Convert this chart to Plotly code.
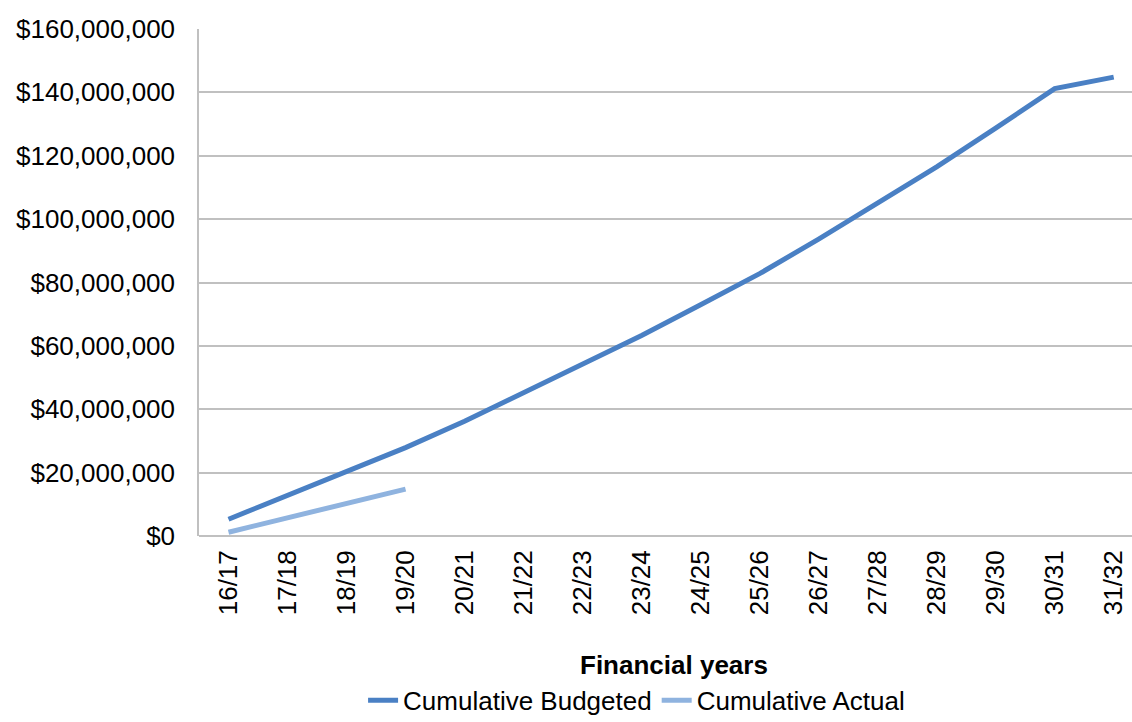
import plotly.graph_objects as go

# Financial years on the category axis
years = ["16/17", "17/18", "18/19", "19/20", "20/21", "21/22", "22/23", "23/24",
         "24/25", "25/26", "26/27", "27/28", "28/29", "29/30", "30/31", "31/32"]

# Cumulative budgeted spend ($)
budgeted = [5.3e6, 12.7e6, 20.3e6, 27.9e6, 36.2e6, 45.2e6, 54.1e6, 63.3e6,
            73.0e6, 82.8e6, 93.7e6, 104.9e6, 116.5e6, 128.7e6, 141.2e6, 144.8e6]

# Cumulative actual spend ($) for the years reported so far
actual_years = ["16/17", "17/18", "18/19", "19/20"]
actual = [1.2e6, 5.8e6, 10.1e6, 14.8e6]

y_ticks = [0, 20e6, 40e6, 60e6, 80e6, 100e6, 120e6, 140e6, 160e6]
y_tick_text = ["$0", "$20,000,000", "$40,000,000", "$60,000,000", "$80,000,000",
               "$100,000,000", "$120,000,000", "$140,000,000", "$160,000,000"]

FONT = "Liberation Sans, Arial, sans-serif"
FS = 26

fig = go.Figure()
fig.add_trace(go.Scatter(
    x=years, y=budgeted, mode="lines", name="Cumulative Budgeted",
    line=dict(color="#4a80c4", width=5),
))
fig.add_trace(go.Scatter(
    x=actual_years, y=actual, mode="lines", name="Cumulative Actual",
    line=dict(color="#8fb3df", width=5),
))

fig.update_layout(
    width=1132, height=722,
    margin=dict(l=199, r=0, t=29, b=186, autoexpand=False),
    paper_bgcolor="white", plot_bgcolor="white",
    font=dict(family=FONT, size=FS, color="black"),
    showlegend=True,
    legend=dict(
        orientation="h", x=0.469, xanchor="center",
        yref="container", y=0.03, yanchor="middle",
        font=dict(size=FS, color="black"), itemwidth=30,
        tracegroupgap=0,
    ),
    annotations=[dict(
        text="<b>Financial years</b>", x=0.509, xref="paper", xanchor="center",
        y=-0.254, yref="paper", yanchor="middle", showarrow=False,
        font=dict(size=FS, color="black", family=FONT),
    )],
)

fig.update_xaxes(
    type="category", categoryorder="array", categoryarray=years,
    range=[-0.5, 15.31], tickangle=-90,
    showgrid=False, showline=False, zeroline=False, ticks="",
    ticklabelstandoff=8, automargin=False,
    tickfont=dict(size=FS, color="black"),
)
fig.update_yaxes(
    range=[0, 160e6], tickvals=y_ticks, ticktext=y_tick_text,
    showgrid=True, gridcolor="#c0c0c0", gridwidth=1.5,
    showline=True, linecolor="#c0c0c0", linewidth=1.5,
    zeroline=True, zerolinecolor="#c0c0c0", zerolinewidth=1.5,
    ticks="", ticklabelstandoff=17, automargin=False,
    tickfont=dict(size=FS, color="black"),
)

fig.write_html("out.html")
